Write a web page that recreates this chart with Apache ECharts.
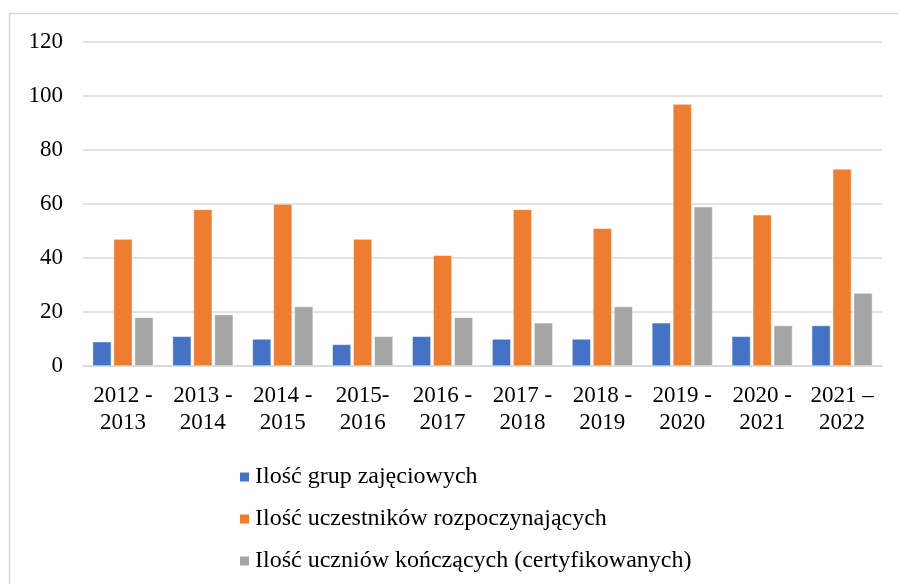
<!DOCTYPE html>
<html>
<head>
<meta charset="utf-8">
<script src="https://cdn.jsdelivr.net/npm/echarts@6/dist/echarts.min.js"></script>
<style>
  html, body { margin: 0; padding: 0; background: #fff; }
  #chart { width: 898px; height: 584px; }
</style>
</head>
<body>
<div id="chart"></div>
<script>
var categories = ['2012 -\n2013', '2013 -\n2014', '2014 -\n2015', '2015-\n2016', '2016 -\n2017',
  '2017 -\n2018', '2018 -\n2019', '2019 -\n2020', '2020 -\n2021', '2021 –\n2022']
var groups = [9, 11, 10, 8, 11, 10, 10, 16, 11, 15]
var starting = [47, 58, 60, 47, 41, 58, 51, 97, 56, 73]
var finishing = [18, 19, 22, 11, 18, 16, 22, 59, 15, 27]
var seriesNames = ['Ilość grup zajęciowych', 'Ilość uczestników rozpoczynających', 'Ilość uczniów kończących (certyfikowanych)']

var font = '"Liberation Serif", "Times New Roman", serif'
var chart = echarts.init(document.getElementById('chart'))
chart.setOption({
  animation: false,
  textStyle: { fontFamily: font },
  color: ['#4472C4', '#ED7D31', '#A5A5A5'],
  graphic: [{
    type: 'rect',
    shape: { x: 9.5, y: 13.5, width: 900, height: 600 },
    style: { fill: 'none', stroke: '#d9d9d9', lineWidth: 1.5 },
    silent: true
  }],
  grid: { left: 83, right: 16, top: 42, bottom: 218 },
  legend: {
    orient: 'vertical',
    left: 233,
    top: 460,
    itemWidth: 11,
    itemHeight: 11,
    itemGap: 18,
    icon: 'rect',
    textStyle: { fontFamily: font, fontSize: 24, color: '#000', lineHeight: 24 },
    data: seriesNames
  },
  xAxis: {
    type: 'category',
    data: categories,
    axisLine: { lineStyle: { color: '#d9d9d9', width: 1.5 } },
    axisTick: { show: false },
    axisLabel: { fontFamily: font, fontSize: 23, color: '#000', lineHeight: 27, margin: 16, interval: 0 }
  },
  yAxis: {
    type: 'value',
    min: 0,
    max: 120,
    interval: 20,
    axisLine: { show: false },
    axisTick: { show: false },
    splitLine: { lineStyle: { color: '#d9d9d9', width: 1.5 } },
    axisLabel: { fontFamily: font, fontSize: 23, color: '#000', margin: 20 }
  },
  series: [
    { name: seriesNames[0], type: 'bar', data: groups, barGap: '12%', barCategoryGap: '24%',
      itemStyle: { borderColor: '#fff', borderWidth: 0.5 } },
    { name: seriesNames[1], type: 'bar', data: starting,
      itemStyle: { borderColor: '#fff', borderWidth: 0.5 } },
    { name: seriesNames[2], type: 'bar', data: finishing,
      itemStyle: { borderColor: '#fff', borderWidth: 0.5 } }
  ]
})
</script>
</body>
</html>
